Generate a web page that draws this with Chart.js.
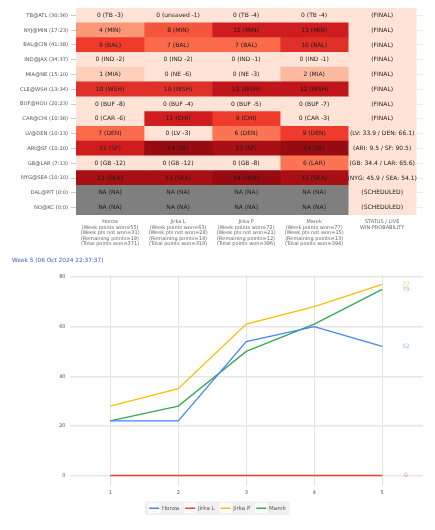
<!DOCTYPE html>
<html>
<head>
<meta charset="utf-8">
<script src="https://cdn.jsdelivr.net/npm/chart.js@4.4.1/dist/chart.umd.min.js"></script>
<style>
  body { margin: 0; background: #ffffff; }
  canvas { display: block; }
</style>
</head>
<body>
<canvas id="picks" width="435" height="252"></canvas>
<canvas id="weeks" width="435" height="278"></canvas>
<script>
// --- pick table data ---
const games = ['TB@ATL (30:36)', 'NYJ@MIN (17:23)', 'BAL@CIN (41:38)', 'IND@JAX (34:37)',
    'MIA@NE (15:10)', 'CLE@WSH (13:34)', 'BUF@HOU (20:23)', 'CAR@CHI (10:36)',
    'LV@DEN (10:13)', 'ARI@SF (10:20)', 'GB@LAR (7:13)', 'NYG@SEA (10:10)',
    'DAL@PIT (0:0)', 'NO@KC (0:0)'];

const players = ['Honza', 'Jirka L', 'Jirka P', 'Marek'];
const weekWon = [55, 63, 72, 77];
const weekNotWon = [31, 28, 21, 15];
const remaining = [19, 14, 12, 13];
const totalWon = [371, 319, 396, 394];

const honzaPts = [0, 4, 9, 0, 1, 10, 0, 0, 7, 11, 0, 13, null, null];
const honzaPicks = ['TB -3', 'MIN', 'BAL', 'IND -2', 'MIA', 'WSH', 'BUF -8', 'CAR -6', 'DEN', 'SF', 'GB -12', 'SEA', 'NA', 'NA'];
const jirkaLPts = [0, 8, 7, 0, 0, 10, 0, 11, 0, 14, 0, 13, null, null];
const jirkaLPicks = ['unsaved -1', 'MIN', 'BAL', 'IND -2', 'NE -6', 'WSH', 'BUF -4', 'CHI', 'LV -3', 'SF', 'GB -12', 'SEA', 'NA', 'NA'];
const jirkaPPts = [0, 11, 7, 0, 0, 12, 0, 9, 6, 13, 0, 14, null, null];
const jirkaPPicks = ['TB -4', 'MIN', 'BAL', 'IND -1', 'NE -3', 'WSH', 'BUF -5', 'CHI', 'DEN', 'SF', 'GB -8', 'SEA', 'NA', 'NA'];
const marekPts = [0, 11, 10, 0, 2, 12, 0, 0, 9, 14, 6, 13, null, null];
const marekPicks = ['TB -4', 'MIN', 'BAL', 'IND -1', 'MIA', 'WSH', 'BUF -7', 'CAR -3', 'DEN', 'SF', 'LAR', 'SEA', 'NA', 'NA'];

const gameStatus = ['(FINAL)', '(FINAL)', '(FINAL)', '(FINAL)', '(FINAL)', '(FINAL)', '(FINAL)', '(FINAL)',
    '(LV: 33.9 / DEN: 66.1)', '(ARI: 9.5 / SF: 90.5)', '(GB: 34.4 / LAR: 65.6)', '(NYG: 45.9 / SEA: 54.1)',
    '(SCHEDULED)', '(SCHEDULED)'];

// --- cumulative points per week ---
const weekNums = [1, 2, 3, 4, 5];
const honzaCum = [22, 22, 54, 60, 52];
const jirkaLCum = [0, 0, 0, 0, 0];
const jirkaPCum = [28, 35, 61, 68, 77];
const marekCum = [22, 28, 50, 61, 75];

const title = 'Week 5 (06 Oct 2024 22:37:37)';

// colour for points 0..14
const reds = ['#fee3d6', '#fdd0bc', '#fcbba1', '#fcaa8d', '#fc9777', '#fc8565', '#fb7555', '#fb6a4a',
    '#f5543d', '#ef3b2c', '#e0302a', '#cf1d1f', '#c0161b', '#a81016', '#970b13'];
const cellColour = v => v === null ? '#7f7f7f' : reds[Math.min(v, 14)];

const FONT = 'DejaVu Sans';
Chart.defaults.font.family = FONT;

const ptsCols = [honzaPts, jirkaLPts, jirkaPPts, marekPts];
const pickCols = [honzaPicks, jirkaLPicks, jirkaPPicks, marekPicks];

const tableSets = ptsCols.map((pts, c) => ({
    label: players[c],
    data: games.map(() => [c, c + 1]),
    backgroundColor: pts.map(cellColour),
    cellText: pts.map((p, r) => (p === null ? 'NA' : p) + ' (' + pickCols[c][r] + ')')
}));
tableSets.push({
    label: 'status',
    data: games.map(() => [4, 5]),
    backgroundColor: reds[0],
    cellText: gameStatus
});

const colLabels = players.map((p, i) => [
    p,
    '(Week points won=' + weekWon[i] + ')',
    '(Week pts not won=' + weekNotWon[i] + ')',
    '(Remaining points=' + remaining[i] + ')',
    '(Total points won=' + totalWon[i] + ')'
]);
colLabels.push(['STATUS / LIVE', 'WIN PROBABILITY']);

const cellLabels = {
    id: 'cellLabels',
    afterDatasetsDraw(chart) {
        const ctx = chart.ctx;
        ctx.save();
        ctx.font = '6px ' + FONT;
        ctx.fillStyle = '#1a1a1a';
        ctx.textAlign = 'center';
        ctx.textBaseline = 'middle';
        chart.data.datasets.forEach((ds, i) => {
            chart.getDatasetMeta(i).data.forEach((bar, r) => {
                const pt = bar.getCenterPoint();
                ctx.fillText(ds.cellText[r], pt.x, pt.y);
            });
        });
        ctx.restore();
    }
};

new Chart(document.getElementById('picks'), {
    type: 'bar',
    data: { labels: games, datasets: tableSets },
    options: {
        responsive: false,
        animation: false,
        indexAxis: 'y',
        layout: { padding: { top: 8, right: 12, left: 0, bottom: 0 } },
        datasets: { bar: { grouped: false, categoryPercentage: 1, barPercentage: 1, borderWidth: 0 } },
        plugins: { legend: { display: false }, tooltip: { enabled: false } },
        scales: {
            x: {
                type: 'linear',
                min: 0,
                max: 5.1,
                afterBuildTicks: s => { s.ticks = [0.5, 1.5, 2.5, 3.5, 4.5].map(v => ({ value: v })); },
                afterFit: s => { s.height = 37; },
                grid: { color: '#ececec', drawTicks: false },
                border: { display: false },
                ticks: {
                    autoSkip: false,
                    maxRotation: 0,
                    padding: 4,
                    color: '#666',
                    font: { size: 5, lineHeight: 1.1 },
                    callback: (v, i) => colLabels[i]
                }
            },
            y: {
                type: 'category',
                afterFit: s => { s.width = 76; },
                grid: { color: '#ececec', offset: false, tickLength: 5, tickColor: '#cccccc' },
                border: { display: false },
                ticks: { color: '#555', padding: 3, font: { size: 5.2 } }
            }
        }
    },
    plugins: [cellLabels]
});

// --- weekly line chart ---
const lineColours = ['#4285f4', '#ea4335', '#fbbc04', '#34a853'];
const softColours = ['rgba(66,133,244,0.6)', 'rgba(234,67,53,0.6)', 'rgba(251,188,4,0.7)', 'rgba(52,168,83,0.6)'];
const cumCols = [honzaCum, jirkaLCum, jirkaPCum, marekCum];

const endLabels = {
    id: 'endLabels',
    afterDatasetsDraw(chart) {
        const ctx = chart.ctx;
        ctx.save();
        ctx.font = '6px ' + FONT;
        ctx.textAlign = 'center';
        ctx.textBaseline = 'middle';
        chart.data.datasets.forEach((ds, i) => {
            const pts = chart.getDatasetMeta(i).data;
            const last = pts[pts.length - 1];
            ctx.fillStyle = softColours[i];
            ctx.fillText(String(ds.data[ds.data.length - 1].y), chart.chartArea.right - 17, last.y);
        });
        ctx.restore();
    }
};

const legendBack = {
    id: 'legendBack',
    beforeDraw(chart) {
        const boxes = chart.legend && chart.legend.legendHitBoxes;
        if (!boxes || !boxes.length) return;
        const ctx = chart.ctx;
        const first = boxes[0], last = boxes[boxes.length - 1];
        ctx.save();
        ctx.fillStyle = '#f0f0f0';
        ctx.fillRect(first.left - 4, first.top - 4, last.left + last.width - first.left + 8, first.height + 8);
        ctx.fillStyle = '#ffffff';
        boxes.forEach(b => ctx.fillRect(b.left - 1, b.top + b.height / 2 - 5, 12, 10));
        ctx.restore();
    }
};

new Chart(document.getElementById('weeks'), {
    type: 'line',
    data: {
        datasets: players.map((p, i) => ({
            label: p,
            data: weekNums.map((w, j) => ({ x: w, y: cumCols[i][j] })),
            borderColor: lineColours[i],
            backgroundColor: lineColours[i],
            borderWidth: i === 1 ? 1.6 : 1.3,
            pointRadius: 0,
            tension: 0
        }))
    },
    options: {
        responsive: false,
        animation: false,
        layout: { padding: { top: 0, right: 12, left: 12, bottom: 9 } },
        plugins: {
            tooltip: { enabled: false },
            title: {
                display: true,
                text: title,
                align: 'start',
                color: '#3b62c4',
                font: { size: 5.8, weight: 'normal' },
                padding: { top: 5, bottom: 11 }
            },
            legend: {
                position: 'bottom',
                labels: {
                    usePointStyle: true,
                    pointStyle: 'line',
                    pointStyleWidth: 10,
                    color: '#555',
                    padding: 6,
                    font: { size: 5.5 }
                }
            }
        },
        scales: {
            x: {
                type: 'linear',
                min: 0.4,
                max: 5.6,
                afterBuildTicks: s => { s.ticks = weekNums.map(v => ({ value: v })); },
                grid: { color: '#dcdcdc', lineWidth: 0.8, drawTicks: false },
                border: { display: false },
                ticks: { color: '#555', padding: 4, font: { size: 5 } }
            },
            y: {
                min: -4,
                max: 80.8,
                afterBuildTicks: s => { s.ticks = [0, 20, 40, 60, 80].map(v => ({ value: v })); },
                afterFit: s => { s.width = 57.5; },
                grid: { color: '#e6e6e6', lineWidth: 1.4, drawTicks: false },
                border: { display: false },
                ticks: { color: '#555', padding: 4, font: { size: 5 } }
            }
        }
    },
    plugins: [endLabels, legendBack]
});
</script>
</body>
</html>
